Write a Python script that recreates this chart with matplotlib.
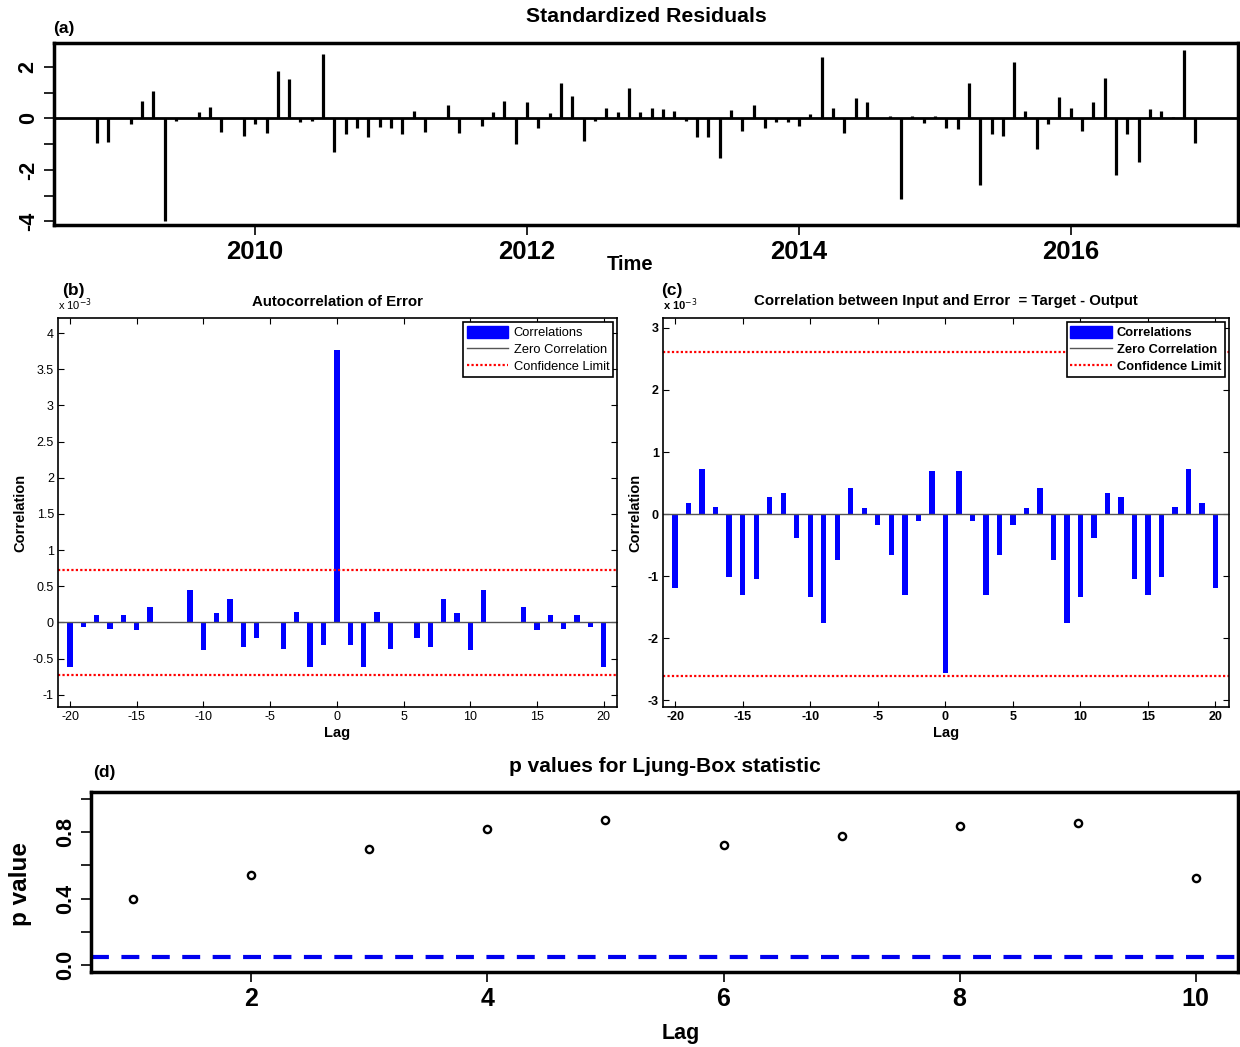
import numpy as np
import matplotlib.pyplot as plt
from matplotlib.lines import Line2D
from matplotlib.patches import Patch
from matplotlib.ticker import FormatStrFormatter

plt.rcParams['font.family'] = ['Liberation Sans', 'DejaVu Sans']
plt.rcParams['axes.unicode_minus'] = False

# (a) standardized residuals, monthly, Nov 2008 .. Dec 2016
start_year, start_month = 2008, 11
resid = [-0.95, -0.91, 0.0, -0.23, 0.68, 1.08, -4.0, -0.1, 0.0, 0.25,
         0.44, -0.52, 0.0, -0.68, -0.23, -0.58, 1.86, 1.52, -0.14, -0.1,
         2.5, -1.3, -0.62, -0.39, -0.71, -0.32, -0.39, -0.62, 0.3, -0.52,
         0.0, 0.52, -0.58, 0.0, -0.3, 0.25, 0.69, -1.0, 0.65, -0.39,
         0.21, 1.36, 0.88, -0.87, -0.1, 0.39, 0.26, 1.17, 0.26, 0.39,
         0.35, 0.3, -0.1, -0.71, -0.71, -1.52, 0.32, -0.48, 0.52, -0.39,
         -0.13, -0.13, -0.29, 0.16, 2.4, 0.42, -0.58, 0.78, 0.65, 0.0,
         0.1, -3.14, 0.09, -0.19, 0.09, -0.39, -0.43, 1.36, -2.57, -0.62,
         -0.68, 2.21, 0.3, -1.19, -0.23, 0.84, 0.39, -0.48, 0.62, 1.56,
         -2.18, -0.62, -1.69, 0.35, 0.3, 0.06, 2.64, -0.97]
year_ticks = [2010, 2012, 2014, 2016]

# (b) autocorrelation of error (x 1e-3), lags -20..20
lags = list(range(-20, 21))
acf = [-0.61, -0.07, 0.10, -0.09, 0.10, -0.10, 0.21, 0.0, 0.0, 0.45,
       -0.38, 0.13, 0.33, -0.34, -0.21, 0.01, -0.37, 0.14, -0.61, -0.31,
       3.77,
       -0.31, -0.61, 0.14, -0.37, 0.01, -0.21, -0.34, 0.33, 0.13, -0.38,
       0.45, 0.0, 0.0, 0.21, -0.10, 0.10, -0.09, 0.10, -0.07, -0.61]
acf_limit = 0.725

# (c) input-error cross correlation (x 1e-3)
ccf = [-1.19, 0.18, 0.73, 0.11, -1.02, -1.30, -1.04, 0.27, 0.34, -0.38,
       -1.33, -1.75, -0.74, 0.42, 0.09, -0.18, -0.66, -1.30, -0.12, 0.70,
       -2.56,
       0.70, -0.12, -1.30, -0.66, -0.18, 0.09, 0.42, -0.74, -1.75, -1.33,
       -0.38, 0.34, 0.27, -1.04, -1.30, -1.02, 0.11, 0.73, 0.18, -1.19]
ccf_limit = 2.615

# (d) Ljung-Box p values
lb_lag = list(range(1, 11))
lb_p = [0.40, 0.545, 0.70, 0.82, 0.875, 0.725, 0.775, 0.835, 0.857, 0.525]

W, H = 1240, 1047
fig = plt.figure(figsize=(W / 100, H / 100), dpi=100)


def box(l, t, r, b):
    # pixel box -> figure fraction
    return [l / W, 1 - b / H, (r - l) / W, (b - t) / H]


def ftext(x, y, s, **kw):
    fig.text(x / W, 1 - y / H, s, ha='center', va='center', **kw)


# ---- (a)
ax = fig.add_axes(box(54, 43, 1238, 225))
t = start_year + (start_month - 1) / 12 + np.arange(len(resid)) / 12
ax.vlines(t, 0, resid, color='black', lw=2.3)
ax.axhline(0, color='black', lw=2)
ax.set_xlim(2008.52, 2017.23)
ax.set_ylim(-4.14, 2.93)
ax.set_xticks(year_ticks)
ax.set_xticklabels([str(y) for y in year_ticks], fontsize=18.5, fontweight='bold')
ax.set_yticks(range(-4, 3))
ax.set_yticklabels([str(v) if v % 2 == 0 else '' for v in range(-4, 3)],
                   rotation=90, va='center', fontsize=15.5, fontweight='bold')
ax.tick_params(length=7, width=1.2, pad=4)
for s in ax.spines.values():
    s.set_linewidth(2.5)
ftext(646, 17, 'Standardized Residuals', fontsize=15.3, fontweight='bold')
ftext(64, 28, '(a)', fontsize=12.5, fontweight='bold')
ftext(630, 265, 'Time', fontsize=14.5, fontweight='bold')


def corr_panel(rect, vals, limit, ylim, yticks, title, bold, tag, tagx):
    ax = fig.add_axes(rect)
    ax.axhline(0, color='#555555', lw=1)
    ax.bar(lags, vals, width=0.4, color='#0000ff')
    ax.axhline(limit, color='red', lw=1.6, ls=(0, (1, 1)))
    ax.axhline(-limit, color='red', lw=1.6, ls=(0, (1, 1)))
    ax.set_xlim(-20.9, 21.0)
    ax.set_ylim(*ylim)
    ax.set_xticks(range(-20, 21, 5))
    ax.set_yticks(yticks)
    ax.yaxis.set_major_formatter(FormatStrFormatter('%g'))
    ax.tick_params(direction='in', top=True, right=True, length=4, labelsize=9, pad=3)
    wt = 'bold' if bold else 'normal'
    for lab in ax.get_xticklabels() + ax.get_yticklabels():
        lab.set_fontweight(wt)
    for s in ax.spines.values():
        s.set_linewidth(1.2)
    ax.set_title(title, fontsize=10.8, fontweight='bold', pad=9)
    ax.set_xlabel('Lag', fontsize=10.5, fontweight='bold', labelpad=2)
    ax.set_ylabel('Correlation', fontsize=10.5, fontweight='bold', labelpad=4)
    ax.text(0.0, 1.012, r'x 10$^{-3}$', transform=ax.transAxes, fontsize=8,
            fontweight=wt, ha='left', va='bottom')
    handles = [Patch(color='#0000ff'),
               Line2D([], [], color='#555555', lw=1),
               Line2D([], [], color='red', lw=1.6, ls=(0, (1, 1)))]
    leg = ax.legend(handles, ['Correlations', 'Zero Correlation', 'Confidence Limit'],
                    loc='upper right', fancybox=False, edgecolor='black', framealpha=1,
                    borderaxespad=0.3, handlelength=3.2, handleheight=1.1,
                    labelspacing=0.25, borderpad=0.3, handletextpad=0.4,
                    prop={'size': 9.3, 'weight': wt})
    leg.get_frame().set_linewidth(1.2)
    ftext(tagx, 290, tag, fontsize=12.5, fontweight='bold')
    return ax


corr_panel(box(58, 318, 617, 707), acf, acf_limit, (-1.17, 4.21),
           np.arange(-1, 4.01, 0.5), 'Autocorrelation of Error', False, '(b)', 73)
corr_panel(box(663, 318, 1229, 707), ccf, ccf_limit, (-3.11, 3.16),
           range(-3, 4), 'Correlation between Input and Error  = Target - Output',
           True, '(c)', 672)

# ---- (d)
ax = fig.add_axes(box(91, 792, 1238, 972))
ax.plot(lb_lag, lb_p, 'o', mfc='none', mec='black', mew=1.7, ms=5.2)
ax.axhline(0.05, color='#0000ee', lw=3, ls=(0, (4.3, 3.0)))
ax.set_xlim(0.64, 10.36)
ax.set_ylim(-0.04, 1.04)
ax.set_xticks([2, 4, 6, 8, 10])
ax.set_xticklabels(['2', '4', '6', '8', '10'], fontsize=18, fontweight='bold')
yt = [0.0, 0.2, 0.4, 0.6, 0.8, 1.0]
ax.set_yticks(yt)
ax.set_yticklabels(['0.0', '', '0.4', '', '0.8', ''], rotation=90, va='center',
                   fontsize=15.5, fontweight='bold')
ax.tick_params(length=7, width=1.2, pad=4)
for s in ax.spines.values():
    s.set_linewidth(2.5)
ftext(665, 766, 'p values for Ljung-Box statistic', fontsize=15, fontweight='bold')
ftext(104, 773, '(d)', fontsize=12.5, fontweight='bold')
ftext(681, 1033, 'Lag', fontsize=15.5, fontweight='bold')
fig.text(20 / W, 1 - 884 / H, 'p value', rotation=90, ha='center', va='center',
         fontsize=17.5, fontweight='bold')

fig.savefig('out.png', dpi=100)
